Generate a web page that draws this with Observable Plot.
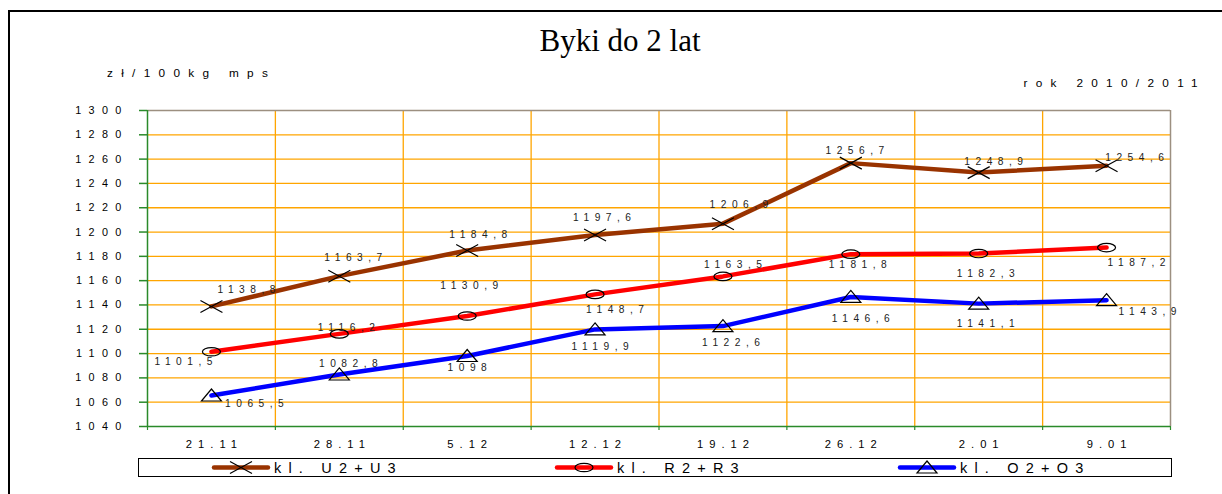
<!DOCTYPE html>
<html><head><meta charset="utf-8">
<script src="https://cdn.jsdelivr.net/npm/d3@7"></script>
<script src="https://cdn.jsdelivr.net/npm/@observablehq/plot@0.6"></script>
<style>
html,body{margin:0;padding:0;background:#fff;overflow:hidden;}
#wrap{position:relative;width:1222px;height:494px;overflow:hidden;font-family:"Liberation Sans",Arial,sans-serif;}
#border{position:absolute;left:8px;top:10px;width:1400px;height:700px;border:2px solid #000;box-sizing:border-box;}
#chart{position:absolute;left:0;top:0;}
#anno{position:absolute;left:0;top:0;}
#chart svg g[aria-label="text"] text{letter-spacing:5.5px;}
#chart svg g[aria-label="y-axis tick label"] text{letter-spacing:7.3px;}
#chart svg g[aria-label="x-axis tick label"] text{letter-spacing:6px;}
</style>
</head><body>
<div id="wrap"><div id="border"></div><div id="chart"></div><svg id="anno" width="1222" height="494"></svg></div>
<script>
const categories = ["21.11","28.11","5.12","12.12","19.12","26.12","2.01","9.01"];
const yTicks = [1040,1060,1080,1100,1120,1140,1160,1180,1200,1220,1240,1260,1280,1300];
const seriesNames = ["kl. U2+U3","kl. R2+R3","kl. O2+O3"];
const valuesU = [1138.8,1163.7,1184.8,1197.6,1206.9,1256.7,1248.9,1254.6];
const valuesR = [1101.5,1116.2,1130.9,1148.7,1163.5,1181.8,1182.3,1187.2];
const valuesO = [1065.5,1082.8,1098,1119.9,1122.6,1146.6,1141.1,1143.9];

// label offsets (px) relative to the point
const offU = [[35,-17],[14,-18],[11,-16],[7,-17],[16,-19],[4,-12],[15,-11],[28,-8]];
const offR = [[-28,10],[7,-6],[2,-30],[20,15],[10,-12],[7,11],[7,20],[30,15]];
const offO = [[43,8],[9,-11],[0,12],[5,17],[8,17],[10,22],[7,20],[41,12]];

const colors = ["#993300","#ff0000","#0000ff"];
const green = "#2a8a2a", orange = "#ffa500", frameGray = "#9c8f80";

const symX = {draw(c){c.moveTo(-11,-6);c.lineTo(11,6);c.moveTo(-11,6);c.lineTo(11,-6);}};
const symEll = {draw(c){const a=9,b=4.2,k=0.5523;c.moveTo(a,0);c.bezierCurveTo(a,b*k,a*k,b,0,b);c.bezierCurveTo(-a*k,b,-a,b*k,-a,0);c.bezierCurveTo(-a,-b*k,-a*k,-b,0,-b);c.bezierCurveTo(a*k,-b,a,-b*k,a,0);c.closePath();}};
const symTri = {draw(c){c.moveTo(0,-6.5);c.lineTo(10,5.5);c.lineTo(-10,5.5);c.closePath();}};
const symbols = [symX, symEll, symTri];

const series = [valuesU, valuesR, valuesO].map((vals, s) => ({
  name: seriesNames[s], color: colors[s], symbol: symbols[s],
  off: [offU, offR, offO][s],
  data: vals.map((v, i) => ({i: i + 0.5, v}))
}));

const fmt = v => String(v).replace(".", ",");
const centers = categories.map((c, i) => i + 0.5);

const marks = [
  Plot.ruleY(yTicks.filter(v => v > 1040 && v < 1300), {stroke: orange, strokeWidth: 1.3}),
  Plot.ruleX(d3.range(1, 8), {stroke: orange, strokeWidth: 1.3}),
  Plot.ruleY([1300], {stroke: frameGray, strokeWidth: 1.5}),
  Plot.ruleX([8], {stroke: frameGray, strokeWidth: 1.5}),
  Plot.axisY({ticks: yTicks, tickSize: 8, tickPadding: 11, tickFormat: d => String(d), stroke: green, strokeWidth: 1.5, label: null, fontSize: 10.8}),
  Plot.axisX({ticks: d3.range(0, 9), tickSize: 4, tickFormat: () => "", stroke: green, strokeWidth: 1.2, label: null}),
  Plot.axisX({ticks: centers, tickSize: 0, tickPadding: 14, dx: 3, tickFormat: d => categories[Math.floor(d)], label: null, fontSize: 11.2}),
  Plot.ruleX([0], {stroke: green, strokeWidth: 1.5}),
  Plot.ruleY([1040], {stroke: green, strokeWidth: 1.5}),
  ...series.map(s => Plot.line(s.data, {x: "i", y: "v", stroke: s.color, strokeWidth: 4.5})),
  ...series.map(s => Plot.dot(s.data, {x: "i", y: "v", symbol: s.symbol, stroke: "#000", strokeWidth: 1.2, fill: "none"})),
  ...series.flatMap(s => s.data.map((d, k) => Plot.text([d], {x: "i", y: "v", text: e => fmt(e.v), dx: s.off[k][0] + 2.75, dy: s.off[k][1], fontSize: 10.2, fill: "#222"})))
];

const plot = Plot.plot({
  width: 1222, height: 494,
  marginLeft: 147, marginRight: 52, marginTop: 110, marginBottom: 68,
  x: {domain: [0, 8]},
  y: {domain: [1040, 1300]},
  style: {fontFamily: '"Liberation Sans", Arial, sans-serif', background: "transparent", color: "#000"},
  marks
});
document.getElementById("chart").appendChild(plot);

// annotations: title, unit, season, legend
const anno = d3.select("#anno");
anno.append("text").attr("x", 620).attr("y", 51).attr("text-anchor", "middle")
  .attr("font-family", '"Liberation Serif", "Times New Roman", serif').attr("font-size", 31).text("Byki do 2 lat");
anno.append("text").attr("x", 107).attr("y", 77).attr("font-size", 11.8).attr("letter-spacing", 8.3)
  .attr("font-family", '"Liberation Sans", Arial, sans-serif').text("zł/100kg mps");
anno.append("text").attr("x", 1206).attr("y", 87).attr("text-anchor", "end").attr("font-size", 11.8).attr("letter-spacing", 8.3)
  .attr("font-family", '"Liberation Sans", Arial, sans-serif').text("rok 2010/2011");

const lg = anno.append("g");
lg.append("rect").attr("x", 138.5).attr("y", 458.5).attr("width", 1033).attr("height", 18).attr("fill", "#fff").attr("stroke", "#000").attr("stroke-width", 1);
const legendX = [214, 557, 900];
series.forEach((s, k) => {
  const x0 = legendX[k];
  lg.append("line").attr("x1", x0).attr("x2", x0 + 54).attr("y1", 467.5).attr("y2", 467.5)
    .attr("stroke", s.color).attr("stroke-width", 4.5).attr("stroke-linecap", "round");
  const p = d3.path(); s.symbol.draw(p, 20);
  lg.append("path").attr("d", p.toString()).attr("transform", `translate(${x0 + 27},467.5)`)
    .attr("fill", "none").attr("stroke", "#000").attr("stroke-width", 1.2);
  lg.append("text").attr("x", x0 + 60).attr("y", 473).attr("font-size", 14.5).attr("letter-spacing", 7.2)
    .attr("font-family", '"Liberation Sans", Arial, sans-serif').text(s.name);
});
</script>
</body></html>
